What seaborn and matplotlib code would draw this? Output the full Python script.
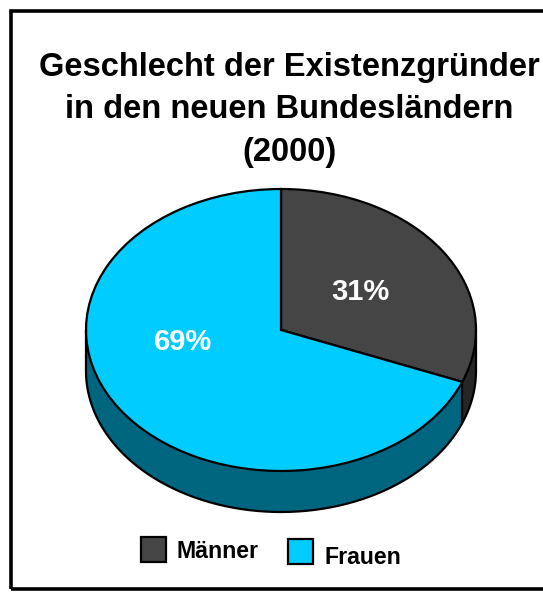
import matplotlib
matplotlib.use("Agg")
import matplotlib.pyplot as plt
from matplotlib.patches import Rectangle
import numpy as np
import seaborn as sns

title = "Geschlecht der Existenzgründer\nin den neuen Bundesländern\n(2000)"
categories = ["Männer", "Frauen"]
values = [31, 69]
top_colors = ["#454545", "#00CCFF"]
side_colors = ["#262626", "#006680"]
value_labels = ["31%", "69%"]

W, H = 543, 592
sns.set_theme(style="white")
plt.rcParams["font.family"] = ["Liberation Sans", "DejaVu Sans"]
plt.rcParams["font.weight"] = "bold"

fig = plt.figure(figsize=(W / 100, H / 100), dpi=100, facecolor="white")


def fx(x):
    return x / W


def fy(y):
    return 1 - y / H


# outer frame: its right edge lies beyond the canvas
fig.add_artist(Rectangle((fx(11), fy(589)), fx(560), 578 / H, transform=fig.transFigure,
                         fill=False, edgecolor="black", linewidth=2.6))

# pie axes: centre (281,330), radii 195 x 141, depth 41 px
cx, cy, rx, ry, depth_px = 281, 330, 195, 141, 41
depth = depth_px / ry
ax = fig.add_axes([fx(cx - rx), fy(cy + ry + depth_px), 2 * rx / W, (2 * ry + depth_px) / H])
lw = 1.6

# side of the cylinder as stacked layers
for k in range(depth_px, 0, -1):
    w, _ = ax.pie(values, colors=side_colors, startangle=90, counterclock=False,
                  center=(0, -k / ry), radius=1, wedgeprops={"linewidth": 0})
    for p in w:
        p.set_clip_on(False)

# top face
wedges, _ = ax.pie(values, colors=top_colors, startangle=90, counterclock=False,
                   center=(0, 0), radius=1,
                   wedgeprops={"edgecolor": "black", "linewidth": lw})
for p in wedges:
    p.set_clip_on(False)

ax.set_aspect("auto")
ax.set_xlim(-1, 1)
ax.set_ylim(-1 - depth, 1)
ax.axis("off")

# outline of the lower rim, silhouette sides and seam
t = np.linspace(np.pi, 2 * np.pi, 300)
ax.plot(np.cos(t), np.sin(t) - depth, color="black", lw=lw, clip_on=False)
ax.plot([-1, -1], [0, -depth], color="black", lw=lw, clip_on=False)
ax.plot([1, 1], [0, -depth], color="black", lw=lw, clip_on=False)
seam = np.deg2rad(90 - 360 * values[0] / sum(values))
ax.plot([np.cos(seam)] * 2, [np.sin(seam), np.sin(seam) - depth], color="black", lw=lw, clip_on=False)

# value labels
fig.text(fx(360), fy(292), value_labels[0], color="white", fontsize=21, ha="center", va="center")
fig.text(fx(183), fy(342), value_labels[1], color="white", fontsize=21, ha="center", va="center")

# title
fig.text(fx(289), fy(110), title, color="black", fontsize=23.5, ha="center", va="center",
         linespacing=1.47)

# legend
for (x0, y0, tx, ty), name, col in zip([(141, 537, 177, 552), (288, 539, 324, 557)], categories, top_colors):
    fig.add_artist(Rectangle((fx(x0), fy(y0 + 25)), 25 / W, 25 / H, transform=fig.transFigure,
                             facecolor=col, edgecolor="black", linewidth=1.6))
    fig.text(fx(tx), fy(ty), name, color="black", fontsize=16.7, ha="left", va="center")

fig.savefig("out.png", dpi=100)
